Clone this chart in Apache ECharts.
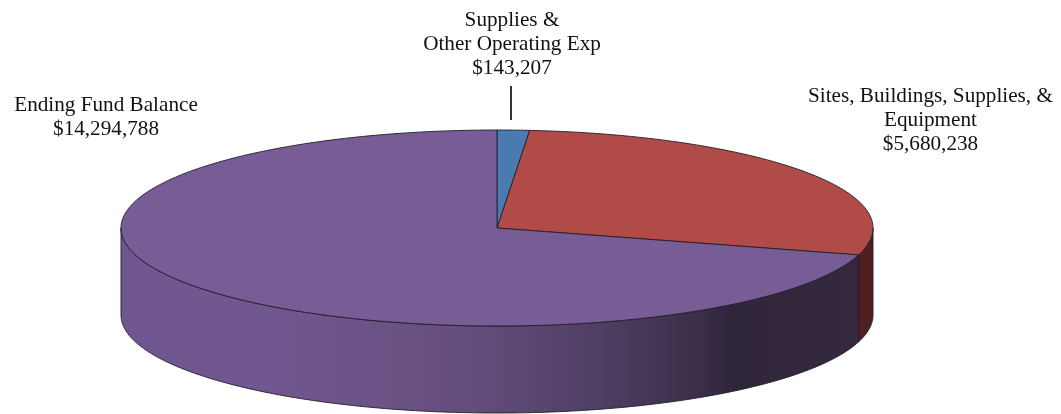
<!DOCTYPE html>
<html>
<head>
<meta charset="utf-8">
<style>html,body{margin:0;padding:0;background:#fff}#c{width:1061px;height:414px}</style>
<script src="https://cdn.jsdelivr.net/npm/echarts@6/dist/echarts.min.js"></script>
</head>
<body>
<div id="c"></div>
<script>
// Data
var categories = ['Supplies &\nOther Operating Exp', 'Sites, Buildings, Supplies, &\nEquipment', 'Ending Fund Balance'];
var amounts = [143207, 5680238, 14294788];
var topColors = ['#4a7ab0', '#b04b48', '#775c95'];

// Layout
var CX = 497, CY = 228, RX = 376, RY = 98, DEPTH = 87;
var MIN_ANGLE = 5; // smallest slice is drawn at this sweep, like pie minAngle
var labelPos = [[512, 8], [930.5, 84], [106, 93]];
var FONT_SIZE = 21.2, LINE_H = 24;

var chart = echarts.init(document.getElementById('c'), null, {renderer: 'canvas'});

function fmt(v) { return '$' + v.toLocaleString('en-US'); }

// Sweep per slice
var total = amounts.reduce(function (s, v) { return s + v; }, 0);
function isSmall(v) { return v / total * 360 < MIN_ANGLE; }
var big = amounts.reduce(function (s, v) { return s + (isSmall(v) ? 0 : v); }, 0);
var small = amounts.filter(isSmall).length;
var angles = [], acc = 0;
amounts.forEach(function (v) {
  var sw = isSmall(v) ? MIN_ANGLE : v / big * (360 - small * MIN_ANGLE);
  angles.push([acc, acc + sw]);
  acc += sw;
});

function pt(deg, dy) {
  var a = deg * Math.PI / 180;
  return [CX + RX * Math.sin(a), CY - RY * Math.cos(a) + (dy || 0)];
}
function arc(a0, a1, dy) {
  var pts = [], n = Math.max(2, Math.ceil(Math.abs(a1 - a0)));
  for (var i = 0; i <= n; i++) pts.push(pt(a0 + (a1 - a0) * i / n, dy));
  return pts;
}

var sideFill = [
  new echarts.graphic.LinearGradient(0, 0, 1, 0, [{offset: 0, color: '#4a7ab0'}, {offset: 1, color: '#2a4466'}]),
  '#4f201f',
  new echarts.graphic.LinearGradient(0, 0, 1, 0, [
    {offset: 0, color: '#6f5690'}, {offset: 0.2, color: '#70578f'}, {offset: 0.378, color: '#6a5285'},
    {offset: 0.513, color: '#5f4a78'}, {offset: 0.648, color: '#4f3f63'}, {offset: 0.783, color: '#3a2e49'},
    {offset: 0.824, color: '#30263c'}, {offset: 1, color: '#35283f'}
  ])
];
var edge = {stroke: '#231d2b', lineWidth: 0.9};

function renderSlice(params, api) {
  var i = params.dataIndex;
  var a0 = angles[i][0], a1 = angles[i][1];
  var children = [];
  var s0 = Math.max(a0, 90), s1 = Math.min(a1, 270);
  if (s1 > s0) {
    children.push({
      type: 'polygon',
      shape: {points: arc(s0, s1, 0).concat(arc(s1, s0, DEPTH))},
      style: Object.assign({fill: sideFill[i]}, edge)
    });
  }
  children.push({
    type: 'polygon',
    shape: {points: [[CX, CY]].concat(arc(a0, a1, 0))},
    style: Object.assign({fill: topColors[i]}, edge)
  });
  return {type: 'group', children: children};
}

var graphics = categories.map(function (name, i) {
  return {
    type: 'text', x: labelPos[i][0], y: labelPos[i][1], silent: true,
    style: {
      text: name + '\n' + fmt(amounts[i]),
      fontFamily: '"Liberation Serif", serif', fontSize: FONT_SIZE, lineHeight: LINE_H,
      fill: '#111', align: 'center', verticalAlign: 'top'
    }
  };
});
graphics.push({
  type: 'line', silent: true,
  shape: {x1: 511, y1: 86, x2: 511, y2: 120},
  style: {stroke: '#000', lineWidth: 1.6}
});

chart.setOption({
  animation: false,
  backgroundColor: '#fff',
  graphic: graphics,
  series: [{
    type: 'custom',
    coordinateSystem: 'none',
    silent: true,
    data: amounts.map(function (v) { return [v]; }),
    renderItem: renderSlice
  }]
});
</script>
</body>
</html>
